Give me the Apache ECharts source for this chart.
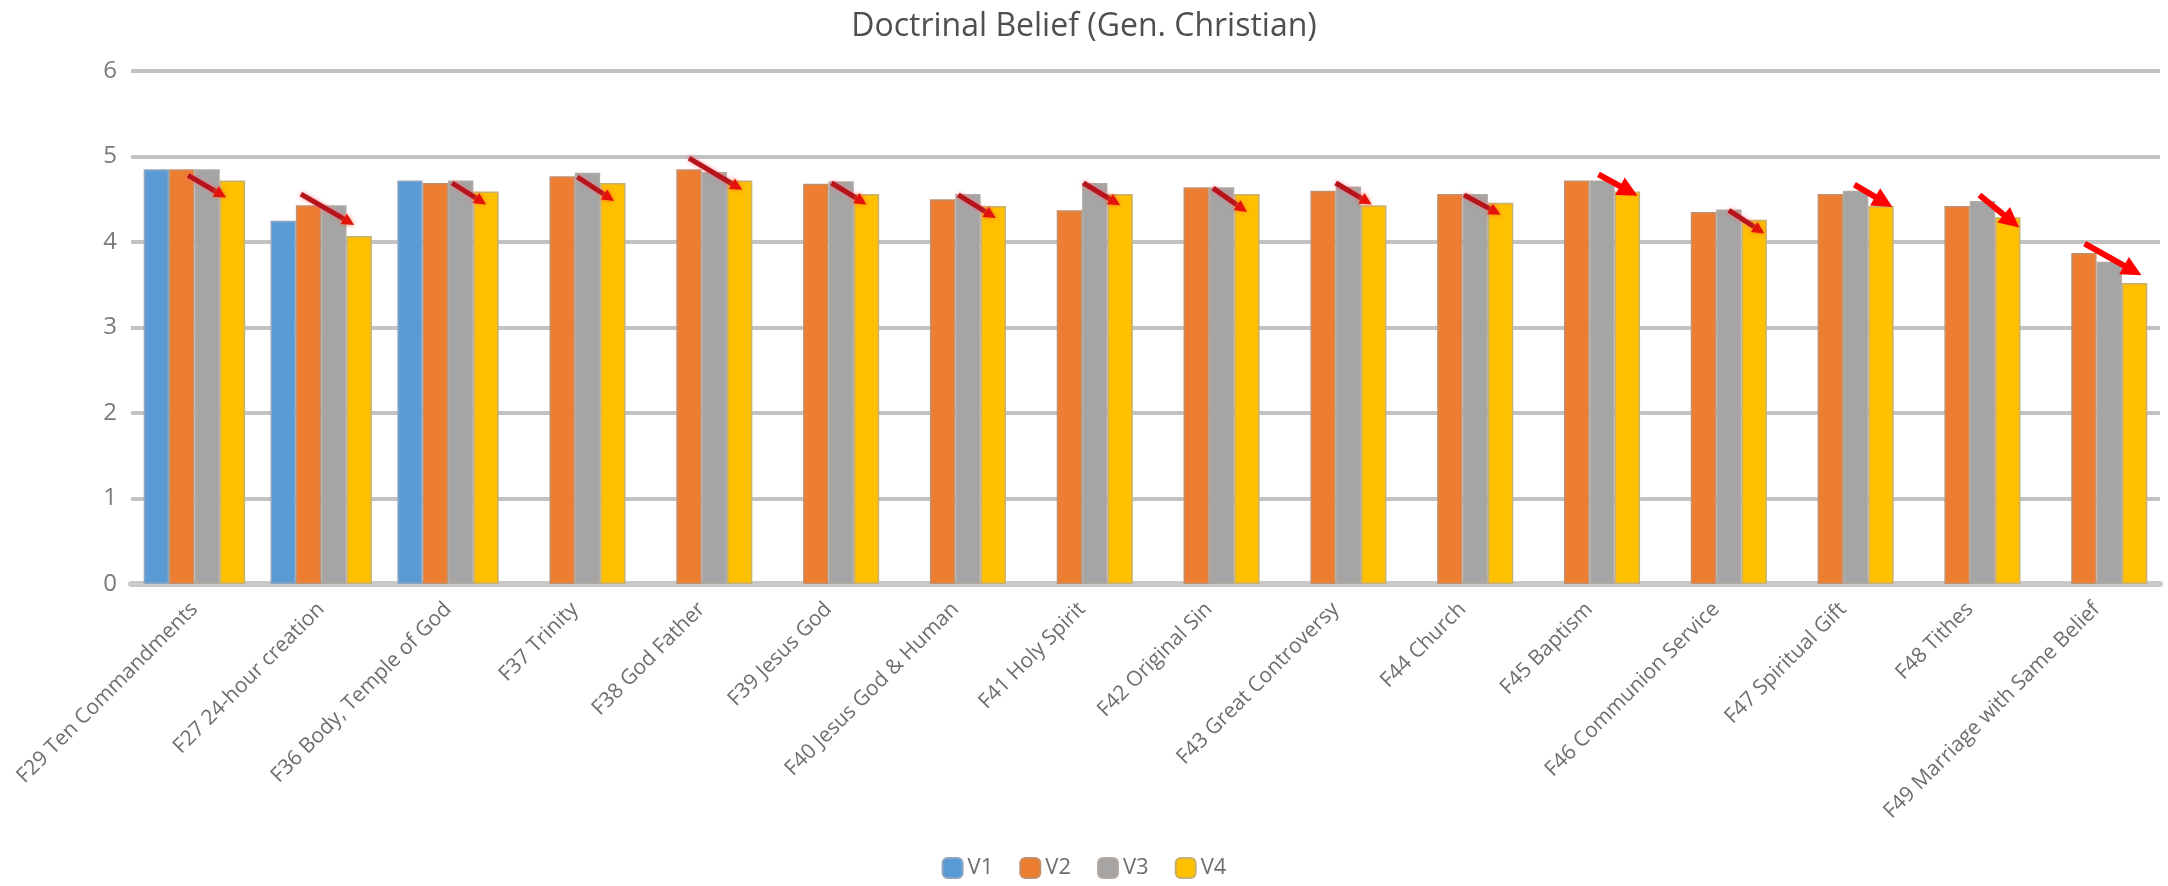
<!DOCTYPE html>
<html>
<head>
<meta charset="utf-8">
<title>Doctrinal Belief (Gen. Christian)</title>
<script src="https://cdn.jsdelivr.net/npm/echarts@6/dist/echarts.min.js"></script>
<style>
  html, body { margin: 0; padding: 0; background: #ffffff; }
  #chart { width: 2168px; height: 886px; }
</style>
</head>
<body>
<div id="chart"></div>
<script>
// Survey items (mean scores per wave)
const categories = [
  'F29 Ten Commandments', 'F27 24-hour creation', 'F36 Body, Temple of God', 'F37 Trinity',
  'F38 God Father', 'F39 Jesus God', 'F40 Jesus God & Human', 'F41 Holy Spirit',
  'F42 Original Sin', 'F43 Great Controversy', 'F44 Church', 'F45 Baptism',
  'F46 Communion Service', 'F47 Spiritual Gift', 'F48 Tithes', 'F49 Marriage with Same Belief'
];
const seriesNames = ['V1', 'V2', 'V3', 'V4'];
const v1 = [4.85, 4.25, 4.72, null, null, null, null, null, null, null, null, null, null, null, null, null];
const v2 = [4.85, 4.43, 4.69, 4.77, 4.85, 4.68, 4.50, 4.37, 4.64, 4.60, 4.56, 4.72, 4.35, 4.56, 4.42, 3.87];
const v3 = [4.85, 4.43, 4.72, 4.81, 4.82, 4.71, 4.56, 4.69, 4.64, 4.65, 4.56, 4.72, 4.38, 4.60, 4.48, 3.77];
const v4 = [4.72, 4.07, 4.59, 4.69, 4.72, 4.56, 4.42, 4.56, 4.56, 4.43, 4.46, 4.59, 4.26, 4.42, 4.29, 3.52];
const yTicks = [0, 1, 2, 3, 4, 5, 6];

// Trend arrows: [category index, start slot, start value, end slot, end value, bold]
// slot 0..3 = V1..V4 bar centres within a category
const trendArrows = [
  [0, 1.25, 4.78, 2.75, 4.52, 0],
  [1, 0.70, 4.56, 2.80, 4.20, 0],
  [2, 1.66, 4.69, 3.00, 4.44, 0],
  [3, 1.60, 4.76, 3.05, 4.48, 0],
  [4, 1.00, 4.98, 3.10, 4.61, 0],
  [5, 1.62, 4.69, 3.00, 4.44, 0],
  [6, 1.62, 4.55, 3.10, 4.28, 0],
  [7, 1.55, 4.69, 3.00, 4.43, 0],
  [8, 1.66, 4.63, 3.00, 4.35, 0],
  [9, 1.50, 4.69, 2.92, 4.44, 0],
  [10, 1.56, 4.55, 3.00, 4.32, 0],
  [11, 1.86, 4.79, 3.40, 4.54, 1],
  [12, 2.00, 4.37, 3.40, 4.10, 0],
  [13, 1.95, 4.67, 3.45, 4.41, 1],
  [14, 1.88, 4.55, 3.45, 4.17, 1],
  [15, 1.03, 3.98, 3.27, 3.61, 1]
];

const barColors = ['#5B9BD5', '#ED7D31', '#A5A5A5', '#FFC000'];
const barBorders = ['#8fa6c0', '#c4906c', '#b2aaa2', '#c8b070'];
const seriesData = [v1, v2, v3, v4];
const CATEGORY_GAP = 0.2;
const SLOT_COUNT = 4;

function renderArrow(params, api) {
  const cat = api.value(0);
  const band = api.size([1, 0])[0];
  const slotW = band * (1 - CATEGORY_GAP) / SLOT_COUNT;
  const p0 = api.coord([cat, api.value(2)]);
  const p1 = api.coord([cat, api.value(4)]);
  const x0 = p0[0] + (api.value(1) - (SLOT_COUNT - 1) / 2) * slotW;
  const x1 = p1[0] + (api.value(3) - (SLOT_COUNT - 1) / 2) * slotW;
  const y0 = p0[1], y1 = p1[1];
  const bold = api.value(5) === 1;
  const headLen = bold ? 20 : 12;
  const headW = bold ? 20 : 12;
  const dx = x1 - x0, dy = y1 - y0;
  const len = Math.sqrt(dx * dx + dy * dy);
  const ux = dx / len, uy = dy / len;
  const nx = -uy, ny = ux;
  const bx = x1 - ux * headLen, by = y1 - uy * headLen;
  return {
    type: 'group',
    children: [
      {
        type: 'line',
        shape: { x1: x0, y1: y0, x2: bx + ux * 2, y2: by + uy * 2 },
        style: {
          stroke: bold ? '#ff0000' : '#b5141c',
          lineWidth: bold ? 6 : 5,
          shadowBlur: bold ? 0 : 4,
          shadowColor: 'rgba(255,110,120,0.8)'
        }
      },
      {
        type: 'polygon',
        shape: {
          points: [
            [x1, y1],
            [bx + nx * headW / 2, by + ny * headW / 2],
            [bx - nx * headW / 2, by - ny * headW / 2]
          ]
        },
        style: {
          fill: bold ? '#ff0000' : '#e4120c',
          shadowBlur: bold ? 0 : 4,
          shadowColor: 'rgba(255,90,40,0.8)'
        }
      }
    ]
  };
}

const chart = echarts.init(document.getElementById('chart'), null, { renderer: 'canvas' });

const series = seriesNames.map((name, i) => ({
  name: name,
  type: 'bar',
  data: seriesData[i],
  barGap: '0%',
  barCategoryGap: (CATEGORY_GAP * 100) + '%',
  itemStyle: { color: barColors[i], borderColor: barBorders[i], borderWidth: 1.5 },
  emphasis: { disabled: true },
  z: 2
}));

series.push({
  name: 'trend',
  type: 'custom',
  renderItem: renderArrow,
  data: trendArrows,
  encode: { x: 0, y: [2, 4] },
  clip: false,
  silent: true,
  z: 5
});

chart.setOption({
  animation: false,
  backgroundColor: '#ffffff',
  title: {
    text: 'Doctrinal Belief (Gen. Christian)',
    left: 'center',
    top: 6,
    textStyle: { fontFamily: 'Open Sans', fontSize: 32, fontWeight: 'normal', color: '#4f4f4f' }
  },
  legend: {
    data: seriesNames,
    bottom: 2,
    left: 'center',
    itemWidth: 20,
    itemHeight: 20,
    itemGap: 26,
    textStyle: { fontFamily: 'Open Sans', fontSize: 22, color: '#6e6e6e' }
  },
  grid: { left: 131, right: 8, top: 71, bottom: 302, containLabel: false },
  xAxis: {
    type: 'category',
    data: categories,
    axisLine: { show: true, lineStyle: { color: '#c8c8c8', width: 6 } },
    axisTick: { show: false },
    axisLabel: {
      rotate: 45,
      interval: 0,
      margin: 22,
      fontFamily: 'Open Sans',
      fontSize: 21,
      color: '#6e6e6e'
    }
  },
  yAxis: {
    type: 'value',
    min: yTicks[0],
    max: yTicks[yTicks.length - 1],
    interval: yTicks[1] - yTicks[0],
    axisLine: { show: false },
    axisTick: { show: false },
    axisLabel: { fontFamily: 'Open Sans', fontSize: 24, color: '#7a7a7a', margin: 14 },
    splitLine: { lineStyle: { color: '#c2c2c2', width: 4 } }
  },
  series: series
});
</script>
</body>
</html>
